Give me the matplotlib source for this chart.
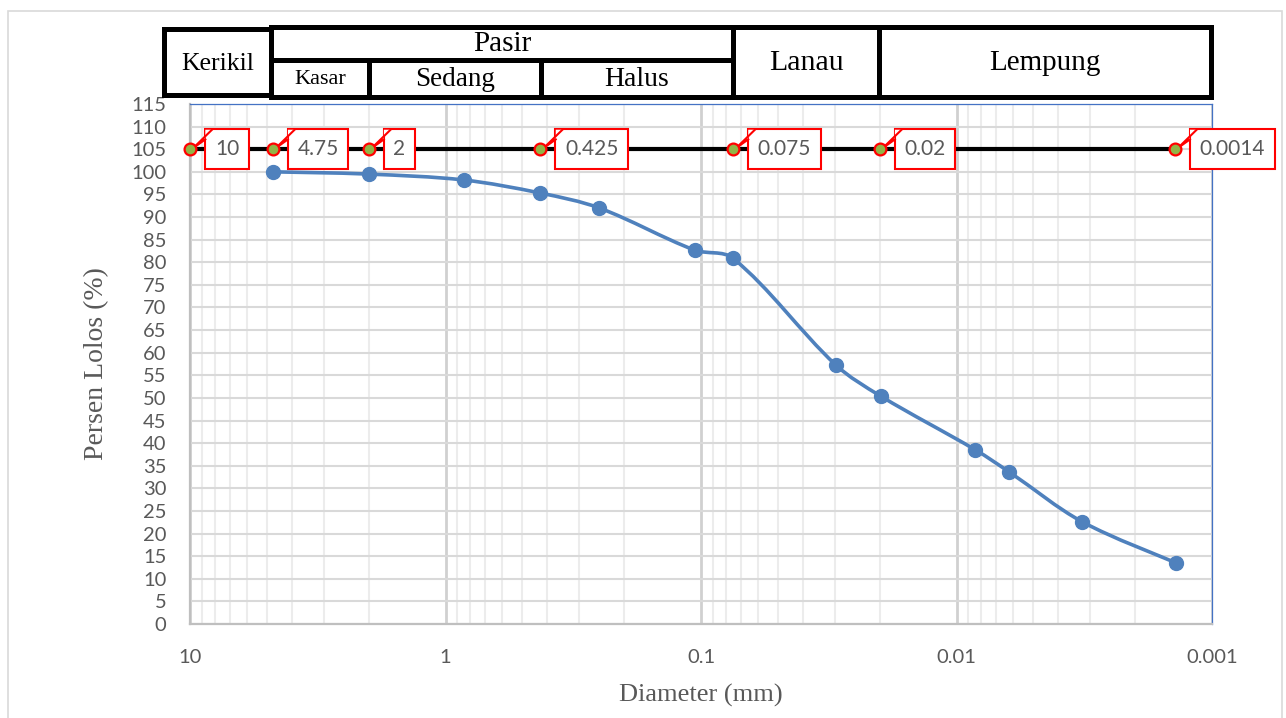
import numpy as np
import matplotlib
matplotlib.use("Agg")
import matplotlib.pyplot as plt
from matplotlib.path import Path
from matplotlib.patches import PathPatch, Rectangle, Polygon
from matplotlib.lines import Line2D
from matplotlib.ticker import FixedLocator, NullFormatter

# ---- data ----
diameter = [4.75, 2.0, 0.85, 0.425, 0.25, 0.106, 0.075, 0.0297, 0.0198,
            0.00843, 0.00621, 0.00322, 0.00138]
persen_lolos = [100.0, 99.5, 98.2, 95.3, 92.0, 82.7, 80.9, 57.3, 50.4,
                38.5, 33.6, 22.6, 13.5]
batas_x = [10, 4.75, 2, 0.425, 0.075, 0.02, 0.0014]
batas_y = [105, 105, 105, 105, 105, 105, 105]
batas_label = ["10", "4.75", "2", "0.425", "0.075", "0.02", "0.0014"]
x_ticks = [10, 1, 0.1, 0.01, 0.001]
x_ticklabels = ["10", "1", "0.1", "0.01", "0.001"]
y_ticks = list(range(0, 116, 5))

W, H = 1286, 718
fig = plt.figure(figsize=(W / 100, H / 100), dpi=100)
fig.patch.set_facecolor("white")

def fx(x):
    return x / W

def fy(y):
    return 1 - y / H

# outer chart border
fig.add_artist(Rectangle((fx(8), fy(730)), fx(1282) - fx(8), fy(11) - fy(730),
                         transform=fig.transFigure, fill=False, ec="#d9d9d9", lw=1.2))

L, R, T, B = 190, 1212, 104, 624
ax = fig.add_axes([fx(L), fy(B), fx(R) - fx(L), fy(T) - fy(B)])
ax.set_xscale("log")
ax.set_xlim(10, 0.001)
ax.set_ylim(0, 115)

TICK_FONT = "Lato"
GRAY = "#595959"

ax.xaxis.set_major_locator(FixedLocator(x_ticks))
ax.set_xticklabels(x_ticklabels, fontfamily=TICK_FONT, fontsize=14.5, color=GRAY)
minor = [m * 10.0 ** e for e in range(-3, 1) for m in range(2, 10)]
ax.xaxis.set_minor_locator(FixedLocator(minor))
ax.xaxis.set_minor_formatter(NullFormatter())
ax.set_yticks(y_ticks)
ax.set_yticklabels([str(v) for v in y_ticks], fontfamily=TICK_FONT, fontsize=14.5, color=GRAY)
ax.tick_params(axis="both", which="both", length=0)
ax.tick_params(axis="x", pad=18)
ax.tick_params(axis="y", pad=17)

ax.grid(True, which="major", axis="y", color="#d9d9d9", lw=1.5)
ax.grid(True, which="major", axis="x", color="#d0d0d0", lw=2.0)
ax.grid(True, which="minor", axis="x", color="#ececec", lw=1.5)
ax.set_axisbelow(True)

for s in ["left", "bottom"]:
    ax.spines[s].set_color("#bfbfbf")
    ax.spines[s].set_linewidth(1.6)
for s in ["top", "right"]:
    ax.spines[s].set_color("#4472c4")
    ax.spines[s].set_linewidth(0.9)

ax.set_xlabel("Diameter (mm)", fontfamily="Liberation Serif", fontsize=19, color=GRAY, labelpad=13)
ax.set_ylabel("Persen Lolos (%)", fontfamily="Liberation Serif", fontsize=20, color=GRAY, labelpad=16)

# ---- smoothed grading curve (Bezier through the points, built in screen-like space) ----
BLUE = "#4f81bd"
u = np.log10(np.array(diameter)) * 256.0
v = np.array(persen_lolos) * 4.522
P = np.column_stack([u, v])
n = len(P)

def dist(a, b):
    return float(np.hypot(*(a - b)))

verts = [P[0]]
codes = [Path.MOVETO]
for i in range(n - 1):
    p0 = P[i - 1] if i > 0 else P[i]
    p1 = P[i]
    p2 = P[i + 1]
    p3 = P[i + 2] if i + 2 < n else P[i + 1]
    d01, d12, d23 = dist(p0, p1), dist(p1, p2), dist(p2, p3)
    k1 = d12 / (d01 + d12) if d01 > 0 else 0.5
    k2 = d12 / (d12 + d23) if d23 > 0 else 0.5
    c1 = p1 + (p2 - p0) * k1 / 3.0
    c2 = p2 - (p3 - p1) * k2 / 3.0
    verts += [c1, c2, p2]
    codes += [Path.CURVE4] * 3
verts = np.array(verts)
data_verts = np.column_stack([10 ** (verts[:, 0] / 256.0), verts[:, 1] / 4.522])
ax.add_patch(PathPatch(Path(data_verts, codes), fill=False, ec=BLUE, lw=2.6,
                       capstyle="round", joinstyle="round", zorder=4))
ax.plot(diameter, persen_lolos, ls="none", marker="o", ms=10, color=BLUE, zorder=5)

# ---- boundary line with labels ----
ax.plot(batas_x, batas_y, color="black", lw=3, zorder=6, solid_capstyle="butt")

PADF = 0.47
FS = 15
for x, y, lab in zip(batas_x, batas_y, batas_label):
    pad_px = PADF * FS * 100 / 72
    ann = ax.annotate(lab, xy=(x, y), xytext=(15 + pad_px, 0), textcoords="offset pixels",
                      ha="left", va="center", fontfamily=TICK_FONT, fontsize=FS, color=GRAY,
                      annotation_clip=False, zorder=8,
                      bbox=dict(boxstyle=f"square,pad={PADF}", fc="white", ec="#ff0000", lw=1.5))
    ann.set_clip_on(False)

fig.canvas.draw()
renderer = fig.canvas.get_renderer()
for ann in list(ax.texts):
    bb = ann.get_bbox_patch().get_window_extent(renderer)
    x0, y1 = bb.x0, bb.y1
    mx, my = ax.transData.transform((ann.xy[0], ann.xy[1]))
    a = (x0 + 0.3, y1 - 10)
    tip = (mx + 3, my + 1)
    b = (x0 + 7, y1 - 0.3)
    fig.add_artist(Polygon([a, tip, b, (x0 + 0.3, y1 - 0.3)], closed=True, fc="white", ec="none",
                           transform=None, zorder=9))
    fig.add_artist(Line2D([a[0], tip[0], b[0]], [a[1], tip[1], b[1]], color="#ff0000", lw=1.5,
                          transform=None, zorder=10, solid_joinstyle="miter"))
# markers above callouts
for x, y in zip(batas_x, batas_y):
    mx, my = ax.transData.transform((x, y))
    fig.add_artist(Line2D([mx], [my], ls="none", marker="o", ms=8.5, mfc="#92b446", mec="#ff0000",
                          mew=1.6, transform=None, zorder=11))

# ---- header table ----
LW = 3.6
def rect(x0, y0, x1, y1):
    fig.add_artist(Rectangle((fx(x0), fy(y1)), fx(x1) - fx(x0), fy(y0) - fy(y1),
                             transform=fig.transFigure, fill=False, ec="black", lw=LW,
                             joinstyle="miter", zorder=20))

def hline(x0, x1, y):
    fig.add_artist(Line2D([fx(x0), fx(x1)], [fy(y), fy(y)], transform=fig.transFigure,
                          color="black", lw=LW, zorder=20, solid_capstyle="projecting"))

def vline(x, y0, y1):
    fig.add_artist(Line2D([fx(x), fx(x)], [fy(y0), fy(y1)], transform=fig.transFigure,
                          color="black", lw=LW, zorder=20, solid_capstyle="projecting"))

rect(164, 29, 271, 95)
rect(271, 27, 733, 97)
hline(271, 733, 60)
vline(369, 60, 97)
vline(541, 60, 97)
rect(733, 27, 879, 97)
rect(879, 27, 1211, 97)

SERIF = "Liberation Serif"
def ttext(x, y, s, fs):
    fig.text(fx(x), fy(y), s, ha="center", va="center", fontfamily=SERIF, fontsize=fs,
             color="black", zorder=21)

ttext(218, 64, "Kerikil", 18.5)
ttext(502, 44, "Pasir", 21)
ttext(320, 79, "Kasar", 16)
ttext(455, 79, "Sedang", 19.5)
ttext(637, 79, "Halus", 20)
ttext(806, 63, "Lanau", 21.5)
ttext(1045, 63, "Lempung", 21)

fig.savefig("out.png", dpi=100)
